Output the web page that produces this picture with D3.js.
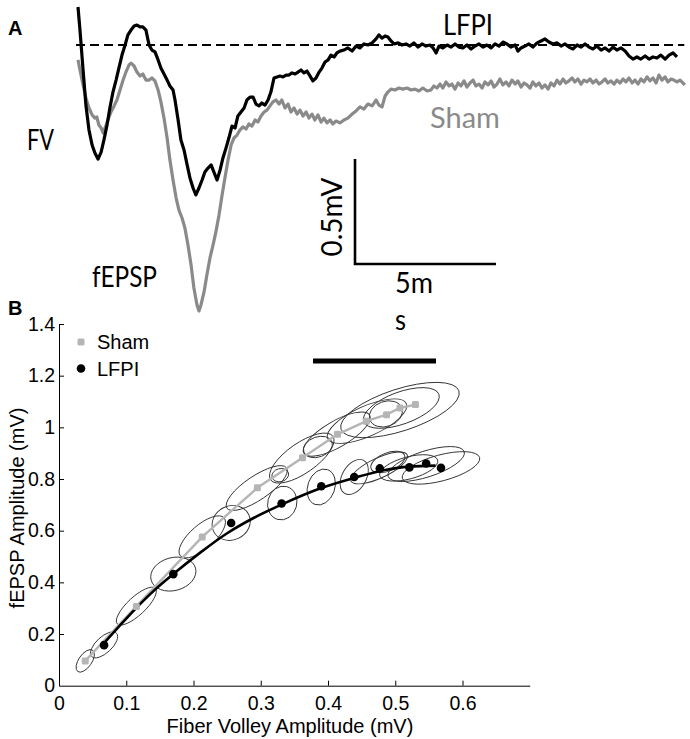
<!DOCTYPE html>
<html>
<head>
<meta charset="utf-8">
<script src="https://cdn.jsdelivr.net/npm/d3@7"></script>
<style>
  body { margin: 0; background: #fff; }
  svg { display: block; }
</style>
</head>
<body>
<svg id="chart" width="690" height="739"></svg>
<script>

// ---- Panel A : example traces [ time (ms), amplitude (mV) ]
const lfpiTrace = [
  [0.00,0.181],[0.07,0.071],[0.18,-0.119],[0.28,-0.286],[0.39,-0.405],[0.50,-0.476],[0.60,-0.514],[0.71,-0.543],
  [0.82,-0.510],[0.92,-0.452],[1.03,-0.381],[1.13,-0.300],[1.24,-0.224],[1.35,-0.167],[1.45,-0.110],[1.56,-0.048],
  [1.67,0.000],[1.77,0.048],[1.88,0.071],[1.99,0.090],[2.09,0.095],[2.20,0.086],[2.30,0.086],[2.41,0.071],
  [2.52,0.000],[2.62,-0.024],[2.73,-0.033],[2.84,-0.071],[2.94,-0.110],[3.05,-0.138],[3.16,-0.167],[3.26,-0.195],
  [3.37,-0.214],[3.44,-0.262],[3.55,-0.357],[3.65,-0.452],[3.76,-0.500],[3.87,-0.571],[3.97,-0.633],[4.08,-0.681],
  [4.18,-0.714],[4.29,-0.681],[4.40,-0.643],[4.50,-0.605],[4.61,-0.586],[4.72,-0.571],[4.82,-0.605],[4.93,-0.643],
  [5.04,-0.595],[5.14,-0.538],[5.25,-0.490],[5.35,-0.443],[5.46,-0.386],[5.57,-0.395],[5.67,-0.338],[5.78,-0.319],
  [5.89,-0.300],[5.99,-0.262],[6.10,-0.248],[6.21,-0.248],[6.31,-0.281],[6.42,-0.290],[6.52,-0.276],[6.63,-0.286],
  [6.74,-0.262],[6.84,-0.224],[6.95,-0.157],[7.06,-0.152],[7.16,-0.148],[7.27,-0.152],[7.38,-0.143],[7.48,-0.143],
  [7.59,-0.133],[7.70,-0.138],[7.80,-0.129],[7.91,-0.119],[8.01,-0.133],[8.12,-0.124],[8.23,-0.148],[8.33,-0.171],
  [8.44,-0.157],[8.55,-0.129],[8.65,-0.110],[8.76,-0.081],[8.87,-0.071],[8.97,-0.048],[9.08,-0.057],[9.18,-0.038],
  [9.29,-0.029],[9.43,-0.024],[9.57,-0.014],[9.72,-0.029],[9.86,-0.005],[10.00,-0.014],[10.14,0.005],[10.28,0.000],
  [10.43,0.010],[10.57,0.029],[10.67,0.048],[10.78,0.033],[10.89,0.043],[10.99,0.038],[11.10,0.019],[11.21,0.005],
  [11.35,0.010],[11.49,0.000],[11.63,0.005],[11.77,-0.005],[11.91,0.010],[12.06,-0.010],[12.20,0.005],[12.34,-0.005],
  [12.48,0.000],[12.59,-0.014],[12.70,-0.038],[12.80,-0.005],[12.94,-0.014],[13.09,0.000],[13.23,-0.010],[13.37,0.005],
  [13.51,-0.010],[13.65,-0.014],[13.79,0.000],[13.94,-0.019],[14.08,-0.005],[14.22,0.005],[14.36,-0.010],[14.50,0.000],
  [14.65,-0.014],[14.79,0.005],[14.93,-0.005],[15.07,0.014],[15.21,0.005],[15.35,-0.010],[15.50,0.000],[15.60,-0.029],
  [15.71,-0.014],[15.85,-0.005],[15.99,0.005],[16.13,-0.010],[16.28,0.010],[16.42,0.019],[16.56,0.029],[16.70,0.014],
  [16.84,0.005],[16.99,0.010],[17.13,-0.005],[17.27,0.005],[17.41,-0.010],[17.55,-0.019],[17.70,0.000],[17.84,-0.010],
  [17.98,0.005],[18.12,-0.010],[18.26,-0.019],[18.40,-0.005],[18.55,-0.024],[18.69,-0.014],[18.83,-0.029],[18.97,-0.010],
  [19.11,-0.024],[19.26,-0.014],[19.40,-0.029],[19.54,-0.052],[19.68,-0.067],[19.82,-0.057],[19.96,-0.067],[20.11,-0.052],
  [20.25,-0.067],[20.39,-0.057],[20.53,-0.062],[20.67,-0.048],[20.82,-0.067],[20.96,-0.048],[21.10,-0.038],[21.24,-0.057]
];

const shamTrace = [
  [0.00,-0.071],[0.07,-0.119],[0.18,-0.190],[0.28,-0.252],[0.39,-0.300],[0.50,-0.333],[0.60,-0.348],[0.67,-0.343],
  [0.74,-0.381],[0.82,-0.395],[0.89,-0.419],[0.96,-0.395],[1.06,-0.357],[1.17,-0.319],[1.28,-0.290],[1.38,-0.262],
  [1.49,-0.214],[1.60,-0.167],[1.70,-0.129],[1.81,-0.095],[1.88,-0.086],[1.99,-0.100],[2.09,-0.129],[2.20,-0.148],
  [2.30,-0.138],[2.41,-0.167],[2.52,-0.167],[2.62,-0.157],[2.73,-0.171],[2.84,-0.214],[2.94,-0.271],[3.05,-0.348],
  [3.16,-0.443],[3.26,-0.548],[3.37,-0.643],[3.48,-0.729],[3.58,-0.786],[3.69,-0.824],[3.79,-0.871],[3.90,-0.952],
  [4.01,-1.048],[4.11,-1.157],[4.22,-1.238],[4.29,-1.267],[4.36,-1.238],[4.47,-1.176],[4.57,-1.095],[4.68,-1.014],
  [4.79,-0.952],[4.89,-0.890],[5.00,-0.810],[5.11,-0.714],[5.21,-0.633],[5.32,-0.548],[5.43,-0.476],[5.53,-0.443],
  [5.64,-0.429],[5.74,-0.405],[5.85,-0.390],[5.96,-0.400],[6.06,-0.376],[6.17,-0.386],[6.28,-0.357],[6.38,-0.367],
  [6.49,-0.338],[6.60,-0.319],[6.70,-0.310],[6.81,-0.290],[6.91,-0.271],[7.02,-0.262],[7.13,-0.281],[7.23,-0.262],
  [7.34,-0.300],[7.45,-0.281],[7.55,-0.319],[7.66,-0.300],[7.77,-0.329],[7.87,-0.310],[7.98,-0.338],[8.09,-0.319],
  [8.19,-0.348],[8.30,-0.329],[8.40,-0.357],[8.51,-0.333],[8.62,-0.367],[8.72,-0.348],[8.83,-0.371],[8.94,-0.357],
  [9.04,-0.376],[9.15,-0.362],[9.29,-0.371],[9.43,-0.357],[9.57,-0.348],[9.72,-0.329],[9.86,-0.314],[10.00,-0.295],
  [10.14,-0.305],[10.28,-0.281],[10.43,-0.290],[10.57,-0.262],[10.67,-0.286],[10.78,-0.295],[10.89,-0.243],[10.99,-0.224],
  [11.10,-0.210],[11.24,-0.214],[11.38,-0.205],[11.52,-0.210],[11.67,-0.205],[11.81,-0.214],[11.95,-0.210],[12.09,-0.219],
  [12.23,-0.205],[12.38,-0.219],[12.52,-0.214],[12.62,-0.195],[12.73,-0.205],[12.84,-0.186],[12.94,-0.205],[13.05,-0.176],
  [13.16,-0.195],[13.26,-0.186],[13.37,-0.210],[13.48,-0.181],[13.58,-0.195],[13.69,-0.171],[13.79,-0.200],[13.90,-0.181],
  [14.01,-0.167],[14.11,-0.195],[14.22,-0.186],[14.33,-0.205],[14.43,-0.176],[14.54,-0.190],[14.65,-0.171],[14.75,-0.200],
  [14.86,-0.186],[14.96,-0.162],[15.07,-0.190],[15.18,-0.176],[15.28,-0.195],[15.39,-0.167],[15.50,-0.186],[15.60,-0.171],
  [15.71,-0.200],[15.82,-0.181],[15.92,-0.190],[16.03,-0.205],[16.13,-0.176],[16.24,-0.195],[16.35,-0.181],[16.45,-0.205],
  [16.56,-0.190],[16.67,-0.210],[16.77,-0.181],[16.88,-0.195],[16.99,-0.167],[17.09,-0.186],[17.20,-0.162],[17.30,-0.181],
  [17.41,-0.171],[17.52,-0.157],[17.62,-0.176],[17.73,-0.162],[17.84,-0.186],[17.94,-0.167],[18.05,-0.176],[18.16,-0.162],
  [18.26,-0.181],[18.37,-0.167],[18.48,-0.186],[18.58,-0.176],[18.69,-0.162],[18.79,-0.181],[18.90,-0.171],[19.01,-0.186],
  [19.11,-0.167],[19.22,-0.181],[19.33,-0.162],[19.43,-0.176],[19.54,-0.157],[19.65,-0.181],[19.75,-0.167],[19.86,-0.186],
  [19.96,-0.162],[20.07,-0.176],[20.18,-0.152],[20.28,-0.171],[20.39,-0.157],[20.50,-0.181],[20.60,-0.143],[20.71,-0.167],
  [20.82,-0.152],[20.92,-0.176],[21.03,-0.162],[21.13,-0.167],[21.24,-0.176],[21.35,-0.167],[21.45,-0.181],[21.52,-0.190]
];

// scale bar values
const barTime = 5;      // ms
const barVolt = 0.5;    // mV

// ---- Panel B : fiber volley vs fEPSP (mV)
const shamFiber = [ 0.039, 0.115, 0.213, 0.295, 0.362, 0.414, 0.457, 0.487, 0.507, 0.530 ];
const shamFepsp = [ 0.096, 0.307, 0.576, 0.766, 0.882, 0.973, 1.024, 1.049, 1.075, 1.088 ];

const lfpiFiber = [ 0.067, 0.170, 0.256, 0.331, 0.390, 0.439, 0.477, 0.521, 0.546, 0.568 ];
const lfpiFepsp = [ 0.157, 0.432, 0.630, 0.705, 0.772, 0.808, 0.841, 0.845, 0.860, 0.843 ];

// fitted LFPI curve
const lfpiFitFiber = [ 0.067, 0.100, 0.140, 0.170, 0.210, 0.250, 0.290, 0.330, 0.390, 0.440, 0.485, 0.520, 0.560 ];
const lfpiFitFepsp = [ 0.165, 0.260, 0.365, 0.432, 0.515, 0.590, 0.650, 0.700, 0.765, 0.805, 0.835, 0.848, 0.852 ];

// error ellipses : [ centre fiber, centre fEPSP, semi-major, semi-minor (in fiber mV), tilt (deg) ]
const shamEllipses = [
  [ 0.039, 0.096, 0.0193, 0.0097, -55 ],
  [ 0.115, 0.308, 0.0387, 0.0134, -43 ],
  [ 0.213, 0.576, 0.0431, 0.0178, -41 ],
  [ 0.294, 0.765, 0.0535, 0.0178, -34 ],
  [ 0.329, 0.815, 0.0126, 0.0097, -15 ],
  [ 0.361, 0.881, 0.0565, 0.0223, -35 ],
  [ 0.385, 0.924, 0.0223, 0.0149, -20 ],
  [ 0.413, 0.974, 0.0565, 0.0193, -30 ],
  [ 0.458, 1.024, 0.0639, 0.0223, -24 ],
  [ 0.486, 1.052, 0.0253, 0.0186, -20 ],
  [ 0.509, 1.075, 0.0595, 0.0238, -20 ],
  [ 0.507, 1.067, 0.0922, 0.0312, -18 ]
];

const lfpiEllipses = [
  [ 0.067, 0.158, 0.0253, 0.0119, -43 ],
  [ 0.170, 0.432, 0.0342, 0.0245, -15 ],
  [ 0.256, 0.630, 0.0290, 0.0253, -25 ],
  [ 0.332, 0.707, 0.0253, 0.0216, -75 ],
  [ 0.390, 0.769, 0.0275, 0.0201, -70 ],
  [ 0.439, 0.808, 0.0283, 0.0178, -60 ],
  [ 0.476, 0.843, 0.0461, 0.0149, -25 ],
  [ 0.489, 0.866, 0.0268, 0.0134, -22 ],
  [ 0.520, 0.843, 0.0446, 0.0164, -15 ],
  [ 0.546, 0.858, 0.0595, 0.0193, -18 ],
  [ 0.568, 0.843, 0.0595, 0.0193, -15 ]
];

const xTicks = [ 0, 0.1, 0.2, 0.3, 0.4, 0.5, 0.6 ];
const yTicks = [ 0, 0.2, 0.4, 0.6, 0.8, 1, 1.2, 1.4 ];

const legendLabels = [ "Sham", "LFPI" ];

const svg = d3.select( "#chart" );

const grey = "#8a8a8a";
const lightGrey = "#b5b5b5";
const labelFont = "Lato, 'Open Sans', sans-serif";
const axisFont = "'Liberation Sans', Arial, sans-serif";


function drawTraces() {

  const xA = d3.scaleLinear().domain( [ 0, 21.5 ] ).range( [ 78, 684.3 ] );
  const yA = d3.scaleLinear().domain( [ 0, -1 ] ).range( [ 45, 255 ] );

  const line = d3.line()
    .x( d => xA( d[ 0 ] ) )
    .y( d => yA( d[ 1 ] ) );

  // baseline
  svg.append( "line" )
    .attr( "x1", xA( -0.07 ) ).attr( "x2", xA( 21.5 ) )
    .attr( "y1", yA( 0 ) ).attr( "y2", yA( 0 ) )
    .attr( "stroke", "#000" )
    .attr( "stroke-width", 2 )
    .attr( "stroke-dasharray", "9,5" );

  svg.append( "path" )
    .datum( shamTrace )
    .attr( "d", line )
    .attr( "fill", "none" )
    .attr( "stroke", grey )
    .attr( "stroke-width", 3.2 )
    .attr( "stroke-linejoin", "round" );

  svg.append( "path" )
    .datum( lfpiTrace )
    .attr( "d", line )
    .attr( "fill", "none" )
    .attr( "stroke", "#000" )
    .attr( "stroke-width", 3.2 )
    .attr( "stroke-linejoin", "round" );

  // scale bar
  const bx = 355, by = 264;
  svg.append( "path" )
    .attr( "d", "M" + bx + "," + ( by - ( yA( -barVolt ) - yA( 0 ) ) ) +
                "V" + by + "H" + ( bx + xA( barTime ) - xA( 0 ) ) )
    .attr( "fill", "none" )
    .attr( "stroke", "#000" )
    .attr( "stroke-width", 2.6 );

  const texts = [
    { t: "LFPI",  x: 443, y: 35,  c: "#000", w: 50 },
    { t: "Sham",  x: 430, y: 128, c: grey,   w: 70 },
    { t: "FV",    x: 27,  y: 150, c: "#000", w: 27 },
    { t: "fEPSP", x: 92,  y: 287, c: "#000", w: 65 },
    { t: "5m",    x: 395, y: 293, c: "#000", w: 38 },
    { t: "s",     x: 395, y: 330, c: "#000", w: 11 }
  ];

  svg.selectAll( "text.lblA" )
    .data( texts )
    .enter().append( "text" )
      .attr( "class", "lblA" )
      .attr( "x", d => d.x )
      .attr( "y", d => d.y )
      .attr( "fill", d => d.c )
      .attr( "textLength", d => d.w )
      .attr( "lengthAdjust", "spacingAndGlyphs" )
      .style( "font-family", labelFont )
      .style( "font-size", "28px" )
      .text( d => d.t );

  svg.append( "text" )
    .attr( "transform", "translate(342,217) rotate(-90)" )
    .attr( "text-anchor", "middle" )
    .attr( "textLength", 79 )
    .attr( "lengthAdjust", "spacingAndGlyphs" )
    .style( "font-family", labelFont )
    .style( "font-size", "29px" )
    .text( barVolt + "mV" );

  svg.append( "text" )
    .attr( "x", 8 ).attr( "y", 35 )
    .style( "font-family", axisFont )
    .style( "font-weight", "bold" )
    .style( "font-size", "20px" )
    .text( "A" );

}


function drawScatter() {

  const x = d3.scaleLinear().domain( [ 0, 0.7 ] ).range( [ 59, 529.75 ] );
  const y = d3.scaleLinear().domain( [ 0, 1.4 ] ).range( [ 685.7, 324 ] );
  const k = x( 1 ) - x( 0 );

  svg.append( "text" )
    .attr( "x", 8 ).attr( "y", 315 )
    .style( "font-family", axisFont )
    .style( "font-weight", "bold" )
    .style( "font-size", "20px" )
    .text( "B" );

  // black bar
  svg.append( "rect" )
    .attr( "x", 313 ).attr( "y", 358.5 )
    .attr( "width", 123 ).attr( "height", 5 )
    .attr( "fill", "#000" );

  const ell = shamEllipses.concat( lfpiEllipses );

  svg.append( "g" )
    .selectAll( "ellipse" )
    .data( ell )
    .enter().append( "ellipse" )
      .attr( "transform", d => "translate(" + x( d[ 0 ] ) + "," + y( d[ 1 ] ) + ") rotate(" + d[ 4 ] + ")" )
      .attr( "rx", d => d[ 2 ] * k )
      .attr( "ry", d => d[ 3 ] * k )
      .attr( "fill", "none" )
      .attr( "stroke", "#333" )
      .attr( "stroke-width", 0.9 );

  const shamPts = shamFiber.map( ( v, i ) => [ v, shamFepsp[ i ] ] );
  const lfpiPts = lfpiFiber.map( ( v, i ) => [ v, lfpiFepsp[ i ] ] );
  const fitPts = lfpiFitFiber.map( ( v, i ) => [ v, lfpiFitFepsp[ i ] ] );

  svg.append( "path" )
    .datum( shamPts )
    .attr( "d", d3.line().x( d => x( d[ 0 ] ) ).y( d => y( d[ 1 ] ) ) )
    .attr( "fill", "none" )
    .attr( "stroke", lightGrey )
    .attr( "stroke-width", 2.4 );

  svg.append( "path" )
    .datum( fitPts )
    .attr( "d", d3.line().curve( d3.curveMonotoneX ).x( d => x( d[ 0 ] ) ).y( d => y( d[ 1 ] ) ) )
    .attr( "fill", "none" )
    .attr( "stroke", "#000" )
    .attr( "stroke-width", 2.6 );

  svg.append( "g" )
    .selectAll( "rect" )
    .data( shamPts )
    .enter().append( "rect" )
      .attr( "x", d => x( d[ 0 ] ) - 3.5 )
      .attr( "y", d => y( d[ 1 ] ) - 3.5 )
      .attr( "width", 7 ).attr( "height", 7 )
      .attr( "rx", 1.5 )
      .attr( "fill", lightGrey );

  svg.append( "g" )
    .selectAll( "circle" )
    .data( lfpiPts )
    .enter().append( "circle" )
      .attr( "cx", d => x( d[ 0 ] ) )
      .attr( "cy", d => y( d[ 1 ] ) )
      .attr( "r", 4.3 )
      .attr( "fill", "#000" );

  // axes
  const xAxis = svg.append( "g" )
    .attr( "transform", "translate(0," + y( 0 ) + ")" )
    .call( d3.axisBottom( x ).tickValues( xTicks ).tickSize( -5 ).tickSizeOuter( 0 )
      .tickPadding( 10 ).tickFormat( d3.format( "~g" ) ) );

  const yAxis = svg.append( "g" )
    .attr( "transform", "translate(" + x( 0 ) + ",0)" )
    .call( d3.axisLeft( y ).tickValues( yTicks ).tickSize( -5 ).tickSizeOuter( 0 )
      .tickPadding( 4 ).tickFormat( d3.format( "~g" ) ) );

  [ xAxis, yAxis ].forEach( g => {
    g.selectAll( "text" )
      .style( "font-family", axisFont )
      .style( "font-size", "19.5px" )
      .attr( "fill", "#000" );
    g.selectAll( "line, path" ).attr( "stroke", "#000" );
  } );

  xAxis.selectAll( ".tick" ).filter( d => d === 0 ).select( "line" ).remove();
  yAxis.selectAll( ".tick" ).filter( d => d === 0 ).select( "line" ).remove();

  svg.append( "text" )
    .attr( "x", 290 ).attr( "y", 733 )
    .attr( "text-anchor", "middle" )
    .style( "font-family", axisFont )
    .style( "font-size", "20px" )
    .text( "Fiber Volley Amplitude (mV)" );

  svg.append( "text" )
    .attr( "transform", "translate(24,508) rotate(-90)" )
    .attr( "text-anchor", "middle" )
    .style( "font-family", axisFont )
    .style( "font-size", "20px" )
    .text( "fEPSP Amplitude (mV)" );

  // legend
  const leg = svg.append( "g" )
    .selectAll( "g" )
    .data( legendLabels )
    .enter().append( "g" )
      .attr( "transform", ( d, i ) => "translate(81," + ( 342 + i * 26.5 ) + ")" );

  leg.filter( d => d === "Sham" ).append( "rect" )
    .attr( "x", -3.5 ).attr( "y", -3.5 )
    .attr( "width", 7 ).attr( "height", 7 )
    .attr( "rx", 1.5 )
    .attr( "fill", lightGrey );

  leg.filter( d => d === "LFPI" ).append( "circle" )
    .attr( "r", 4.3 )
    .attr( "fill", "#000" );

  leg.append( "text" )
    .attr( "x", 16 )
    .attr( "dy", "0.36em" )
    .style( "font-family", axisFont )
    .style( "font-size", "20px" )
    .text( d => d );

}

drawTraces();
drawScatter();

</script>
</body>
</html>
